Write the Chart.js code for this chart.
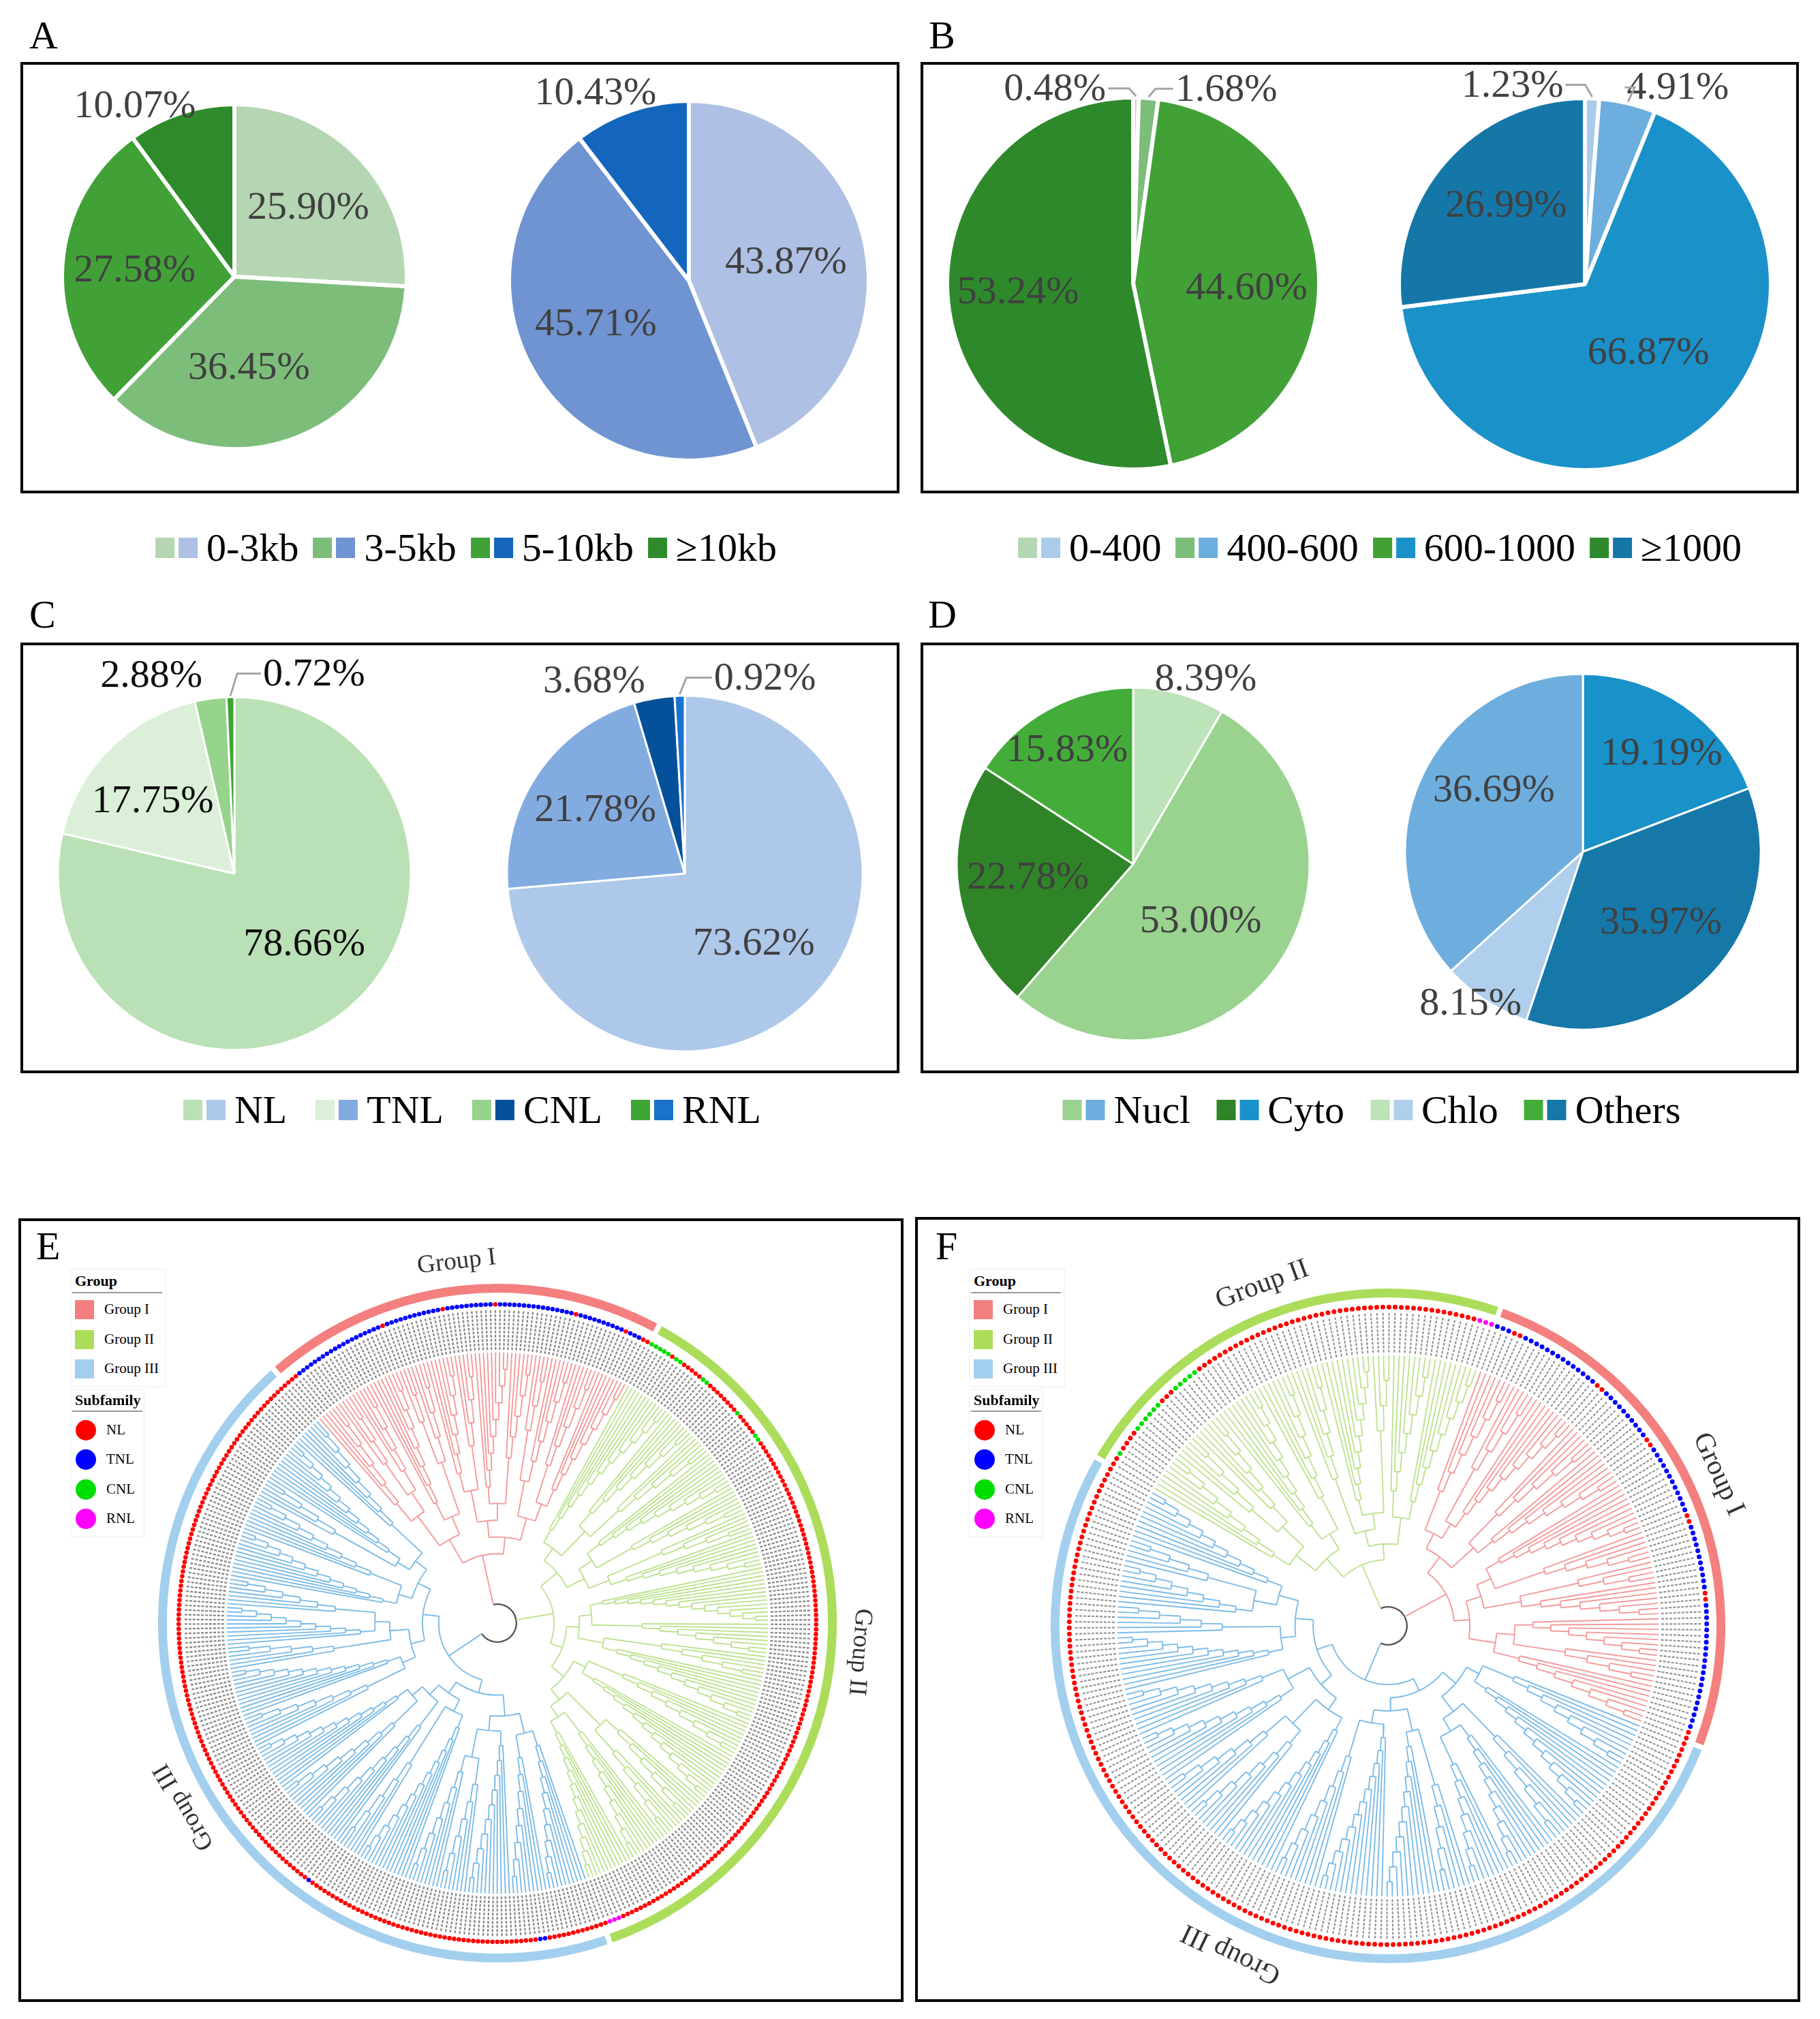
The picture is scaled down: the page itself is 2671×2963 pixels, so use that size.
<!DOCTYPE html>
<html>
<head>
<meta charset="utf-8">
<title>NLR genes: structure, length, subfamily, localisation and trees</title>
<script src="https://cdn.jsdelivr.net/npm/chart.js@4.4.1/dist/chart.umd.min.js"></script>
<style>
  body{margin:0;background:#fff;}
  #page{position:relative;width:2671px;height:2963px;overflow:hidden;font-family:'Liberation Serif','Times New Roman',serif;color:#000;background:#fff;}
  .box{position:absolute;border:4px solid #000;box-sizing:border-box;}
  .tag{position:absolute;font-size:58px;line-height:58px;}
  .cv{position:absolute;}
  .lg{position:absolute;display:flex;align-items:center;font-size:58px;line-height:58px;white-space:nowrap;transform:translate(-50%,-50%);}
  .lg .sq{display:inline-block;width:28px;height:30px;margin-right:6px;}
  .lg .tx{margin-left:7px;}
  .tl{position:absolute;border:1px solid #eee;background:#fff;font-size:21px;line-height:21px;}
  .tl .hd{position:absolute;left:6px;font-weight:bold;font-size:22px;}
  .tl .ul{position:absolute;left:2px;height:0;border-top:2px solid #999;}
  .tl .it{position:absolute;white-space:nowrap;}
  .tl .ic{position:absolute;}
</style>
</head>
<body>
<div id="page">
  <div class="box" style="left:30px;top:91px;width:1290px;height:633px"></div>
  <div class="box" style="left:1351px;top:91px;width:1289px;height:633px"></div>
  <div class="box" style="left:30px;top:943px;width:1290px;height:632px"></div>
  <div class="box" style="left:1351px;top:943px;width:1289px;height:632px"></div>
  <div class="box" style="left:27px;top:1788px;width:1299px;height:1150px"></div>
  <div class="box" style="left:1343px;top:1786px;width:1299px;height:1152px"></div>

  <div class="tag" style="left:43px;top:23px">A</div>
  <div class="tag" style="left:1363px;top:23px">B</div>
  <div class="tag" style="left:43px;top:873px">C</div>
  <div class="tag" style="left:1362px;top:873px">D</div>
  <div class="tag" style="left:53px;top:1800px">E</div>
  <div class="tag" style="left:1373px;top:1800px">F</div>

  <canvas class="cv" id="pA1"></canvas>
  <canvas class="cv" id="pA2"></canvas>
  <canvas class="cv" id="pB1"></canvas>
  <canvas class="cv" id="pB2"></canvas>
  <canvas class="cv" id="pC1"></canvas>
  <canvas class="cv" id="pC2"></canvas>
  <canvas class="cv" id="pD1"></canvas>
  <canvas class="cv" id="pD2"></canvas>
  <canvas class="cv" id="treeE" width="1160" height="1160" style="left:150px;top:1802px"></canvas>
  <canvas class="cv" id="treeF" width="1160" height="1160" style="left:1457px;top:1806px"></canvas>

  <div class="lg" id="lgA" style="left:684px;top:804px"></div>
  <div class="lg" id="lgB" style="left:2025px;top:804px"></div>
  <div class="lg" id="lgC" style="left:693px;top:1629px"></div>
  <div class="lg" id="lgD" style="left:2013px;top:1629px"></div>

  <div id="tlE"></div>
  <div id="tlF"></div>
</div>

<script>
// ---------- pie data (percent) ----------
// A: gene length
var lenCats = ['0-3kb', '3-5kb', '5-10kb', '≥10kb'];
var lenLeft = [25.90, 36.45, 27.58, 10.07];
var lenRight = [43.87, 45.71, 10.43];
var lenGreen = ['#b5d6b2', '#7dbd7a', '#41a137', '#2e8a2b'];
var lenBlue = ['#aec0e3', '#7093d1', '#1466bd'];

// B: protein length
var aaCats = ['0-400', '400-600', '600-1000', '≥1000'];
var aaLeft = [0.48, 1.68, 44.60, 53.24];
var aaRight = [1.23, 4.91, 66.87, 26.99];
var aaGreen = ['#b5d6b2', '#7dbd7a', '#41a137', '#2e892b'];
var aaBlue = ['#aacbea', '#6caedd', '#1a91c9', '#1577a8'];

// C: subfamily
var subCats = ['NL', 'TNL', 'CNL', 'RNL'];
var subLeft = [78.66, 17.75, 2.88, 0.72];
var subRight = [73.62, 21.78, 3.68, 0.92];
var subGreen = ['#bae1b5', '#dcf0d9', '#96d48c', '#3ea534'];
var subBlue = ['#aec8ea', '#82abe0', '#04509a', '#1a72cc'];

// D: subcellular localisation (slice order differs between the two pies)
var locCats = ['Nucl', 'Cyto', 'Chlo', 'Others'];
var locGreen = ['#99d38f', '#2f8428', '#bde3b8', '#44ad3a'];
var locBlue = ['#6daede', '#1991c9', '#b0cfec', '#1578a9'];
var locLeftCats = ['Chlo', 'Nucl', 'Cyto', 'Others'];
var locLeft = [8.39, 53.00, 22.78, 15.83];
var locRightCats = ['Cyto', 'Others', 'Chlo', 'Nucl'];
var locRight = [19.19, 35.97, 8.15, 36.69];

// ---------- tree data ----------
var groupNames = ['Group I', 'Group II', 'Group III'];
var groupRing = ['#f47f7f', '#abdd5b', '#a3cfee'];
var groupLine = ['#f49a9a', '#bde291', '#7dbbe7'];
var subDot = {NL: '#ff0000', TNL: '#0000ff', CNL: '#00dd00', RNL: '#ff00ff'};

// clades in clockwise order; a number n stands for a ladder of n leaves
var treeE_I = [[[6, [4, 5]], [8, [3, 4]]], [[[7, 5], [9, 6]], [[4, 6], [6, 8]]]];
var treeE_II = [[[12, [8, 6]], [[10, 7], [5, 9]]], [[[14, 8], [6, 11]], [[9, 13], [[7, 6], [10, 12]]]]];
var treeE_III = [[[[10, 9], [11, [7, 8]]], [[13, 6], [10, [9, 12]]]], [[[8, 12], [6, [10, 7]]], [[12, 9], [[5, 11], 8]]]];
// subfamily of the leaves, as runs, clockwise
var subE_I = [['NL', 3], ['TNL', 20], ['NL', 1], ['TNL', 12], ['NL', 1], ['TNL', 10], ['NL', 1], ['TNL', 16], ['NL', 1], ['TNL', 10], ['NL', 1], ['TNL', 3], ['NL', 2]];
var subE_II = [['CNL', 5], ['NL', 1], ['CNL', 2], ['NL', 5], ['CNL', 2], ['NL', 8], ['CNL', 1], ['NL', 5], ['CNL', 2], ['NL', 118], ['RNL', 3], ['NL', 1]];
var subE_III = [['NL', 12], ['TNL', 2], ['NL', 50], ['TNL', 1], ['NL', 118]];

var treeF_II = [[[8, [5, 6]], [9, 7]], [[6, [10, 4]], [8, 9]]];
var treeF_I = [[[7, [5, 9]], [6, 8]], [[[10, 6], [4, 7]], [[8, 5], 8]]];
var treeF_III = [[[[9, 12], [7, [10, 8]]], [[6, 11], [13, 9]]], [[[12, [8, 7]], [10, 9]], [[11, 6], [[8, 5], 10]]]];
var subF_II = [['NL', 2], ['CNL', 1], ['NL', 4], ['CNL', 6], ['NL', 3], ['CNL', 5], ['NL', 48], ['RNL', 3]];
var subF_I = [['TNL', 3], ['NL', 2], ['TNL', 14], ['NL', 2], ['TNL', 10], ['NL', 2], ['TNL', 12], ['NL', 2], ['TNL', 11], ['NL', 2], ['TNL', 21], ['NL', 2]];
var subF_III = [['NL', 171]];

var PIE_FONT = "58px 'Liberation Serif', 'Times New Roman', serif";

// ---------- pies ----------
function pieText(spec) {
  return {
    id: 'pieText',
    afterDatasetsDraw: function (chart) {
      var ctx = chart.ctx;
      var meta = chart.getDatasetMeta(0);
      var vals = chart.data.datasets[0].data;
      ctx.save();
      ctx.font = PIE_FONT;
      ctx.textAlign = 'center';
      ctx.textBaseline = 'middle';
      meta.data.forEach(function (arc, i) {
        var p = arc.getProps(['x', 'y', 'startAngle', 'endAngle', 'outerRadius'], true);
        var mid = (p.startAngle + p.endAngle) / 2;
        var a = mid + spec.pos[i][0] * Math.PI / 180;
        var R = p.outerRadius * spec.pos[i][1];
        var tx = p.x + R * Math.cos(a), ty = p.y + R * Math.sin(a);
        var txt = vals[i].toFixed(2) + '%';
        ctx.fillStyle = spec.text;
        ctx.fillText(txt, tx, ty + 2);
        if (spec.callout.indexOf(i) >= 0) {
          var ex = p.x + (p.outerRadius + 2) * Math.cos(mid);
          var ey = p.y + (p.outerRadius + 2) * Math.sin(mid);
          var w = ctx.measureText(txt).width;
          var side = tx < ex ? -1 : 1;
          ctx.strokeStyle = '#a6a6a6';
          ctx.lineWidth = 3;
          ctx.beginPath();
          ctx.moveTo(tx - side * (w / 2 + 3), ty);
          ctx.lineTo(ex + side * 10, ty);
          ctx.lineTo(ex, ey);
          ctx.stroke();
        }
      });
      ctx.restore();
    }
  };
}

function drawPie(id, cats, vals, colorCats, colors, spec) {
  var pad = 110;
  var S = 2 * (spec.r + pad);
  var cv = document.getElementById(id);
  cv.width = S; cv.height = S;
  cv.style.left = (spec.cx - S / 2) + 'px';
  cv.style.top = (spec.cy - S / 2) + 'px';
  var cols = cats.map(function (c) { return colors[colorCats.indexOf(c)]; });
  new Chart(cv, {
    type: 'pie',
    data: {
      labels: cats,
      datasets: [{data: vals, backgroundColor: cols, borderColor: '#fff', borderWidth: spec.bw, radius: spec.r}]
    },
    options: {
      responsive: false, animation: false, events: [],
      radius: spec.r,
      layout: {padding: 0},
      plugins: {legend: {display: false}, tooltip: {enabled: false}}
    },
    plugins: [pieText(spec)]
  });
}

drawPie('pA1', lenCats, lenLeft, lenCats, lenGreen,
  {cx: 344, cy: 406, r: 253, bw: 6, text: '#404040', pos: [[0, .59], [12, .53], [0, .58], [-12, 1.15]], callout: []});
drawPie('pA2', lenCats.slice(0, 3), lenRight, lenCats, lenBlue,
  {cx: 1011, cy: 412, r: 264, bw: 6, text: '#404040', pos: [[0, .55], [5, .57], [-7.6, 1.17]], callout: []});
drawPie('pB1', aaCats, aaLeft, aaCats, aaGreen,
  {cx: 1663, cy: 416, r: 273, bw: 6, text: '#404040', pos: [[-22.7, 1.13], [20.8, 1.16], [4, .61], [2, .62]], callout: [0, 1]});
drawPie('pB2', aaCats, aaRight, aaCats, aaBlue,
  {cx: 2326, cy: 417, r: 273, bw: 6, text: '#404040', pos: [[-22.2, 1.14], [12, 1.17], [-5.5, .50], [3.6, .60]], callout: [0, 1]});
drawPie('pC1', subCats, subLeft, subCats, subGreen,
  {cx: 344, cy: 1282, r: 259, bw: 3, text: '#0d0d0d', pos: [[-6.6, .56], [-3.4, .62], [-14.9, 1.22], [23, 1.22]], callout: [3]});
drawPie('pC2', subCats, subRight, subCats, subBlue,
  {cx: 1005, cy: 1282, r: 261, bw: 3, text: '#404040', pos: [[2.5, .55], [1.5, .62], [-15.2, 1.20], [23.9, 1.19]], callout: [3]});
drawPie('pD1', locLeftCats, locLeft, locCats, locGreen,
  {cx: 1663, cy: 1268, r: 259, bw: 3, text: '#404040', pos: [[6.2, 1.13], [4.4, .50], [1, .60], [-1.5, .75]], callout: []});
drawPie('pD2', locRightCats, locRight, locCats, locBlue,
  {cx: 2323, cy: 1250, r: 261, bw: 3, text: '#404040', pos: [[4, .71], [-2, .59], [3.3, 1.06], [11, .61]], callout: []});

// ---------- pie legends (two swatches: left pie / right pie) ----------
function buildLegend(id, cats, colsA, colsB, gap) {
  var el = document.getElementById(id);
  cats.forEach(function (c, i) {
    var item = document.createElement('span');
    item.style.display = 'inline-flex';
    item.style.alignItems = 'center';
    if (i > 0) item.style.marginLeft = gap + 'px';
    [colsA[i], colsB[i]].forEach(function (col) {
      if (!col) return;
      var s = document.createElement('span');
      s.className = 'sq';
      s.style.background = col;
      item.appendChild(s);
    });
    var t = document.createElement('span');
    t.className = 'tx';
    t.textContent = c;
    item.appendChild(t);
    el.appendChild(item);
  });
}
buildLegend('lgA', lenCats, lenGreen, lenBlue, 21);
buildLegend('lgB', aaCats, aaGreen, aaBlue, 21);
buildLegend('lgC', subCats, subGreen, subBlue, 42);
buildLegend('lgD', locCats, locGreen, locBlue, 38);

// ---------- trees ----------
function ladder(n) { return n <= 1 ? 'L' : ['L', ladder(n - 1)]; }
function expand(node) { return typeof node === 'number' ? ladder(node) : node.map(expand); }
function height(n) { return n === 'L' ? 0 : 1 + Math.max.apply(null, n.map(height)); }
function countLeaves(n) { return n === 'L' ? 1 : n.reduce(function (s, c) { return s + countLeaves(c); }, 0); }
function polar(a, r) { var t = a * Math.PI / 180; return {x: r * Math.sin(t), y: r * Math.cos(t)}; }
var GAP = {x: null, y: null};

function drawTree(id, clades, groupIdx, runs, startDeg, geo) {
  var roots = clades.map(expand);
  var total = roots.reduce(function (s, c) { return s + countLeaves(c); }, 0);
  var step = 360 / total;
  var leafIdx = 0;
  var leaves = [], arcs = [], radial = groupIdx.map(function () { return []; });
  var spans = [];
  var S = 2;

  function place(n, d, g) {
    if (n === 'L') {
      var a = startDeg + (leafIdx + 0.5) * step;
      leafIdx++;
      leaves.push({a: a, g: g});
      return {a: a, r: geo.leaf};
    }
    var h = height(n);
    var r = geo.root + (geo.leaf - geo.root) * (d + S) / (d + S + h);
    var kids = n.map(function (c) { return place(c, d + 1, g); });
    arcs.push({g: g, r: r, a0: kids[0].a, a1: kids[kids.length - 1].a});
    kids.forEach(function (k) { radial[g].push([k.a, r, k.r]); });
    return {a: (kids[0].a + kids[kids.length - 1].a) / 2, r: r};
  }

  var tops = roots.map(function (c, g) {
    var first = leafIdx;
    var t = place(c, 1, g);
    spans.push({g: groupIdx[g], a0: startDeg + first * step, a1: startDeg + leafIdx * step});
    return t;
  });
  arcs.push({g: -1, r: geo.root, a0: tops[0].a, a1: tops[tops.length - 1].a});
  tops.forEach(function (t, g) { radial[g].push([t.a, geo.root, t.r]); });

  // subfamily of each leaf from the runs
  var subs = [];
  runs.forEach(function (list) {
    list.forEach(function (run) { for (var k = 0; k < run[1]; k++) subs.push(run[0]); });
  });

  var datasets = [];
  Object.keys(subDot).forEach(function (s) {
    datasets.push({
      data: leaves.filter(function (l, i) { return subs[i] === s; }).map(function (l) { return polar(l.a, geo.dot); }),
      showLine: false, pointRadius: geo.dotR, pointBorderWidth: 0,
      backgroundColor: subDot[s], borderColor: subDot[s]
    });
  });
  radial.forEach(function (list, g) {
    var pts = [];
    list.forEach(function (s) { pts.push(polar(s[0], s[1]), polar(s[0], s[2]), GAP); });
    datasets.push({data: pts, showLine: true, spanGaps: false, pointRadius: 0,
      borderColor: groupLine[groupIdx[g]], borderWidth: 1.9});
  });
  // the gene-name band, drawn as one broken grey stroke per leaf
  var band = [];
  leaves.forEach(function (l) { band.push(polar(l.a, geo.leaf + 4), polar(l.a, geo.leaf + 64), GAP); });
  datasets.push({data: band, showLine: true, spanGaps: false, pointRadius: 0,
    borderColor: geo.bandColor, borderWidth: geo.bandW, borderDash: [4, 2]});

  var decor = {
    id: 'treeDecor',
    beforeDatasetsDraw: function (chart) {
      var ctx = chart.ctx, xs = chart.scales.x, ys = chart.scales.y;
      var cx = xs.getPixelForValue(0), cy = ys.getPixelForValue(0);
      var k = xs.getPixelForValue(1) - cx;
      var rad = function (a) { return (a - 90) * Math.PI / 180; };
      ctx.save();
      arcs.forEach(function (c) {
        ctx.strokeStyle = c.g < 0 ? '#555' : groupLine[groupIdx[c.g]];
        ctx.lineWidth = c.g < 0 ? 2.4 : 1.9;
        ctx.beginPath();
        ctx.arc(cx, cy, c.r * k, rad(c.a0), rad(c.a1), false);
        ctx.stroke();
      });
      ctx.lineWidth = geo.ringW;
      spans.forEach(function (s) {
        ctx.strokeStyle = groupRing[s.g];
        ctx.beginPath();
        ctx.arc(cx, cy, geo.ring * k, rad(s.a0 + 0.45), rad(s.a1 - 0.45), false);
        ctx.stroke();
      });
      ctx.restore();
    },
    afterDatasetsDraw: function (chart) {
      var ctx = chart.ctx, xs = chart.scales.x, ys = chart.scales.y;
      ctx.save();
      ctx.font = geo.labFont + "px 'Liberation Serif', 'Times New Roman', serif";
      ctx.fillStyle = '#333';
      ctx.textAlign = 'center';
      ctx.textBaseline = 'middle';
      spans.forEach(function (s) {
        var a = (s.a0 + s.a1) / 2;
        var p = polar(a, geo.lab);
        ctx.save();
        ctx.translate(xs.getPixelForValue(p.x), ys.getPixelForValue(p.y));
        ctx.rotate(a * Math.PI / 180);
        ctx.fillText(groupNames[s.g], 0, 0);
        ctx.restore();
      });
      ctx.restore();
    }
  };

  new Chart(document.getElementById(id), {
    type: 'scatter',
    data: {datasets: datasets},
    options: {
      responsive: false, animation: false, events: [],
      layout: {padding: 0},
      scales: {
        x: {type: 'linear', min: -580, max: 580, display: false},
        y: {type: 'linear', min: -580, max: 580, display: false}
      },
      plugins: {legend: {display: false}, tooltip: {enabled: false}}
    },
    plugins: [decor]
  });
}

drawTree('treeE', [treeE_I, treeE_II, treeE_III], [0, 1, 2], [subE_I, subE_II, subE_III], -41.4,
  {root: 28, leaf: 400, dot: 471, dotR: 3.3, ring: 495, ringW: 13, lab: 537, labFont: 37, bandColor: '#8c8c8c', bandW: 2.4});
drawTree('treeF', [treeF_II, treeF_I, treeF_III], [1, 0, 2], [subF_II, subF_I, subF_III], -60,
  {root: 28, leaf: 400, dot: 471, dotR: 3.5, ring: 492, ringW: 13, lab: 537, labFont: 41, bandColor: '#959595', bandW: 2.2});

// ---------- tree legends ----------
function treeLegend(id, left) {
  var host = document.getElementById(id);
  var html = '';
  html += '<div class="tl" style="left:' + left + 'px;top:1862px;width:139px;height:172px">';
  html += '<div class="hd" style="top:6px">Group</div><div class="ul" style="top:33px;width:132px"></div>';
  groupNames.forEach(function (g, i) {
    var y = 59 + i * 43.5;
    html += '<div class="ic" style="left:6px;top:' + (y - 14) + 'px;width:28px;height:28px;background:' + groupRing[i] + '"></div>';
    html += '<div class="it" style="left:49px;top:' + (y - 11) + 'px">' + g + '</div>';
  });
  html += '</div>';
  html += '<div class="tl" style="left:' + left + 'px;top:2039px;width:107px;height:215px">';
  html += '<div class="hd" style="top:4px">Subfamily</div><div class="ul" style="top:30px;width:103px"></div>';
  Object.keys(subDot).forEach(function (s, i) {
    var y = 59 + i * 43.3;
    html += '<div class="ic" style="left:7px;top:' + (y - 15) + 'px;width:30px;height:30px;border-radius:50%;background:' + subDot[s] + '"></div>';
    html += '<div class="it" style="left:52px;top:' + (y - 11) + 'px">' + s + '</div>';
  });
  html += '</div>';
  host.innerHTML = html;
}
treeLegend('tlE', 103);
treeLegend('tlF', 1422);
</script>
</body>
</html>
